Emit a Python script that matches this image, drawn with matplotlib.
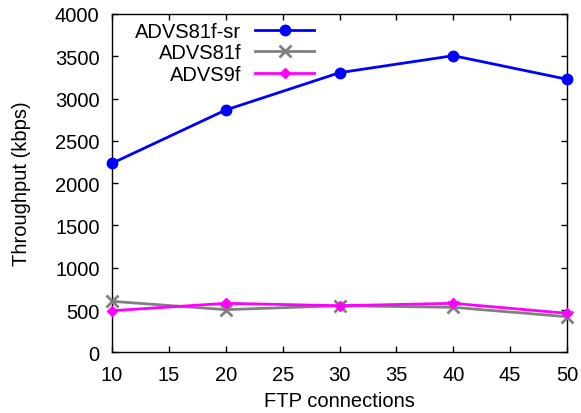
import matplotlib
matplotlib.use("Agg")
import matplotlib.pyplot as plt

plt.rcParams['font.family'] = ['Liberation Sans', 'DejaVu Sans']

ftp = [10, 20, 30, 40, 50]
advs81f_sr = [2235, 2865, 3306, 3507, 3228]
advs81f = [603, 504, 551, 532, 421]
advs9f = [492, 579, 551, 579, 461]

xticks = [10, 15, 20, 25, 30, 35, 40, 45, 50]
yticks = [0, 500, 1000, 1500, 2000, 2500, 3000, 3500, 4000]

FS = 14.5

fig = plt.figure(figsize=(5.81, 4.14), dpi=100)
ax = fig.add_axes([0.1928, 0.1466, 0.976 - 0.1928, 0.9638 - 0.1466])

ax.plot(ftp, advs81f_sr, color='#0000ff', lw=2, marker='o', markersize=7.5, label='ADVS81f-sr', clip_on=False, zorder=3)
ax.plot(ftp, advs81f, color='#808080', lw=2, marker='x', markersize=8, markeredgewidth=2, label='ADVS81f', clip_on=False, zorder=3)
ax.plot(ftp, advs9f, color='#ff00ff', lw=2, marker='D', markersize=5, label='ADVS9f', clip_on=False, zorder=3)

ax.set_xlim(10, 50)
ax.set_ylim(0, 4000)
ax.set_xticks(xticks)
ax.set_yticks(yticks)
ax.tick_params(direction='in', top=True, right=True, length=4, width=1, labelsize=FS)
ax.tick_params(axis='x', pad=9)
ax.tick_params(axis='y', pad=9)
for s in ax.spines.values():
    s.set_linewidth(1)

ax.set_xlabel('FTP connections', fontsize=FS, labelpad=5)
ax.set_ylabel('Throughput (kbps)', fontsize=FS, labelpad=17)

leg = ax.legend(loc='upper left', markerfirst=False, frameon=False, fontsize=FS,
                handlelength=2.9, handletextpad=0.7, labelspacing=0.12,
                borderaxespad=0.0, bbox_to_anchor=(0.033, 1.0))

fig.savefig('out.png', dpi=100)
